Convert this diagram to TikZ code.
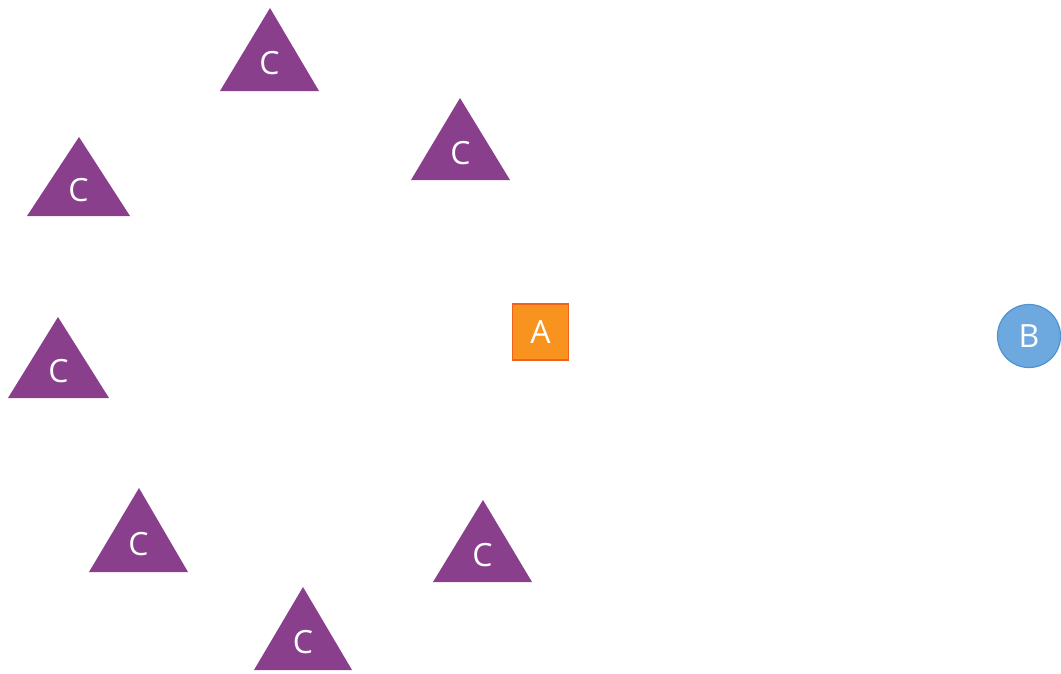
\documentclass[tikz,border=0pt]{standalone}
\usepackage{fontspec}
\setmainfont{Open Sans}
\definecolor{tripurple}{HTML}{8A3F8C}
\definecolor{aorange}{HTML}{F7931E}
\definecolor{aborder}{HTML}{F0601F}
\definecolor{bblue}{HTML}{6DA8DE}
\definecolor{bborder}{HTML}{4F92D2}
\tikzset{
  lbl/.style={text=white, font=\fontsize{32}{32}\selectfont, inner sep=0pt},
  boxA/.style={draw=aborder, fill=aorange, line width=1.2pt, minimum width=56pt, minimum height=56pt, inner sep=0pt, text=white, font=\fontsize{32}{32}\selectfont},
  circB/.style={circle, draw=bborder, fill=bblue, line width=1.2pt, minimum size=63pt, inner sep=0pt, text=white, font=\fontsize{32}{32}\selectfont},
}
\begin{document}
\begin{tikzpicture}[x=1pt,y=-1pt]
\useasboundingbox (0,0) rectangle (1061,673);
\foreach \n/\ax/\ay/\l/\r/\b in {1/270/8/220/319/91, 2/460/98/411/510/180, 3/79/137/27/130/216, 4/58/317/8/109/398, 5/139/488/89/188/572, 6/483/500/433/532/582, 7/303/587/254/352/670}{
  \fill[tripurple] (\ax,\ay) -- (\r,\b) -- (\l,\b) -- cycle;
  \node[lbl] (c\n) at ({(\l+\r)/2},{(\ay+2*\b)/3}) {C};
}
\node[boxA] (a) at (540.5,332) {A};
\node[circB] (b) at (1029,336) {B};
\end{tikzpicture}
\end{document}
